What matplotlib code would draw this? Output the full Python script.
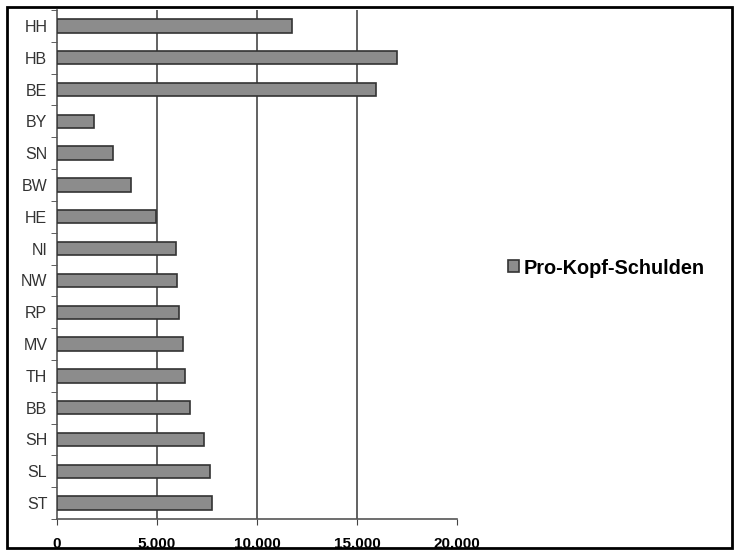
import matplotlib.pyplot as plt
from matplotlib.patches import Rectangle
import numpy as np

# Daten (Pro-Kopf-Schulden je Bundesland)
laender = ['HH', 'HB', 'BE', 'BY', 'SN', 'BW', 'HE', 'NI',
           'NW', 'RP', 'MV', 'TH', 'BB', 'SH', 'SL', 'ST']
schulden = [11750, 17000, 15950, 1850, 2800, 3700, 4950, 5950,
            6000, 6100, 6300, 6400, 6650, 7350, 7650, 7750]
xticks = [0, 5000, 10000, 15000, 20000]
xlabels = ['0', '5.000', '10.000', '15.000', '20.000']

plt.rcParams['font.family'] = ['Liberation Sans', 'DejaVu Sans']

fig = plt.figure(figsize=(7.35, 5.5), dpi=100)
ax = fig.add_axes([57 / 735, 1 - 519 / 550, 400 / 735, 509 / 550])

# Positionen von oben nach unten
pos = np.arange(len(laender))[::-1]
ax.barh(pos, schulden, height=0.42, color='#8c8c8c', edgecolor='#333333',
        linewidth=1.2, zorder=3, label='Pro-Kopf-Schulden')

ax.set_xlim(0, 20000)
ax.set_ylim(-0.5, len(laender) - 0.5)
ax.set_xticks(xticks)
ax.set_xticklabels(xlabels, fontweight='bold', fontsize=11)
ax.set_yticks(pos)
ax.set_yticklabels(laender, fontsize=11.5, color='#333333')
ax.tick_params(axis='y', length=0, pad=7)
ax.tick_params(axis='x', length=4, direction='out', color='#444444', pad=9)
# kleine Striche zwischen den Kategorien
ax.set_yticks(np.arange(-0.5, len(laender)), minor=True)
ax.tick_params(axis='y', which='minor', length=4, color='#444444')

for x in xticks[1:-1]:
    ax.axvline(x, color='#555555', linewidth=1.3, zorder=1)

for s in ['top', 'right']:
    ax.spines[s].set_visible(False)
for s in ['left', 'bottom']:
    ax.spines[s].set_color('#555555')
    ax.spines[s].set_linewidth(1.2)

leg = fig.legend(loc='center left', bbox_to_anchor=(490 / 735, 1 - 268 / 550),
                 frameon=False, handlelength=0.55, handleheight=0.55,
                 handletextpad=0.25, prop={'weight': 'bold', 'size': 14.3})

# Rahmen um das ganze Bild
fig.patches.append(Rectangle((7 / 735, 2 / 550), 725 / 735, 541 / 550,
                             transform=fig.transFigure, fill=False,
                             edgecolor='black', linewidth=2))

fig.savefig('out.png', dpi=100)
